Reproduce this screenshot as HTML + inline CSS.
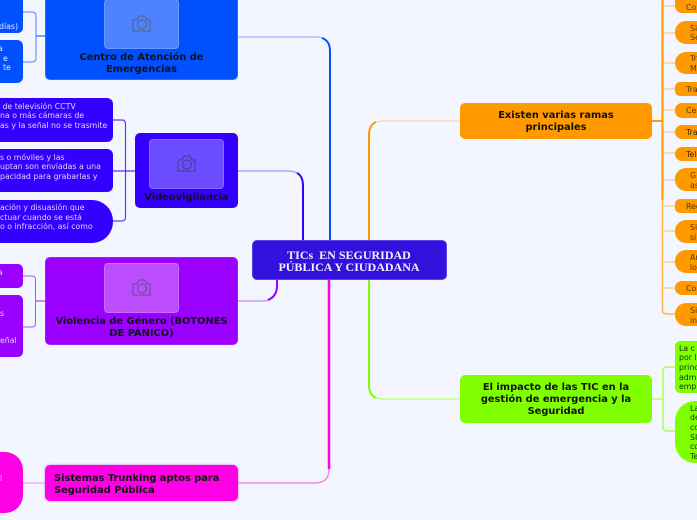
<!DOCTYPE html>
<html><head><meta charset="utf-8">
<style>
html,body{margin:0;padding:0}
body{width:697px;height:520px;overflow:hidden;background:#f3f6ff;position:relative;font-family:"DejaVu Sans",sans-serif}
.n{position:absolute;box-sizing:border-box;border-radius:5px;overflow:hidden}
.t{position:absolute;white-space:nowrap}
.h{font-weight:bold;font-size:9.85px;line-height:12px;color:#111;text-align:center}
.l{font-size:7.8px;line-height:9.7px;white-space:nowrap}
.img{position:absolute;width:75px;height:50px;border-radius:4px;border:1px solid rgba(255,255,255,.18);box-sizing:border-box}
svg.b{position:absolute;left:0;top:0}
</style></head><body>
<svg class="b" width="697" height="520" fill="none">
<path d="M238 37H316Q330 37 330 51V240" stroke="#a9c3ff" stroke-width="1.5"/>
<path d="M330 240V51Q330 41 322 38" stroke="#0050ff" stroke-width="2"/>
<path d="M238 171H288Q303 171 303 186V240" stroke="#b3a3ff" stroke-width="1.5"/>
<path d="M303 240V186Q303 176 297 173" stroke="#3300ff" stroke-width="2"/>
<path d="M277 280V286Q277 301 262 301H238" stroke="#c99bff" stroke-width="1.5"/>
<path d="M277 280V286Q277 296 268 300" stroke="#9900ff" stroke-width="2"/>
<path d="M329 280V469Q329 483 315 483H238" stroke="#f38ae8" stroke-width="1.5"/>
<path d="M329 280V469" stroke="#ff00e0" stroke-width="2.5"/>
<path d="M369 240V135Q369 121 383 121H460" stroke="#fbdcb0" stroke-width="1.5"/>
<path d="M369 240V135Q369 125 376 122" stroke="#ff9900" stroke-width="2"/>
<path d="M369 280V385Q369 399 383 399H460" stroke="#c2ff85" stroke-width="1.5"/>
<path d="M369 280V385Q369 395 376 398" stroke="#80ff00" stroke-width="2"/>
<path d="M652 121H662.5" stroke="#ff9900" stroke-width="2"/>
<path d="M662.500 0V310Q662.500 314 667 314H675" stroke="#ffb84d" stroke-width="1.6"/>
<path d="M662.500 0V200" stroke="#ff9900" stroke-width="2"/>
<path d="M662.500 6H675M662.500 33H675M662.500 63H675M662.500 89H675M662.500 110H675M662.500 132H675M662.500 153H675M662.500 180H675M662.500 206H675M662.500 231H675M662.500 262H675M662.500 288H675" stroke="#fbc985" stroke-width="1.3"/>
<path d="M652 399H663" stroke="#b6ff6b" stroke-width="1.5"/>
<path d="M675 367H667Q663 367 663 371V427Q663 431 667 431H675" stroke="#aaff55" stroke-width="1.5"/>
<path d="M23 12H32Q36 12 36 16V58Q36 62 32 62H23" stroke="#4d85ff" stroke-width="1"/>
<path d="M36 36H45" stroke="#4d85ff" stroke-width="1.5"/>
<path d="M113 120H122Q125.500 120 125.500 124V217Q125.500 221 122 221H113" stroke="#5a3dff" stroke-width="1.2"/>
<path d="M113 171H135" stroke="#3300ff" stroke-width="1"/>
<path d="M23 276H32Q35.500 276 35.500 280V323Q35.500 327 32 327H23" stroke="#b84dff" stroke-width="1"/>
<path d="M36 301H45" stroke="#a31aff" stroke-width="1"/>
<path d="M23 483H45" stroke="#f38ae8" stroke-width="1"/>
</svg>

<!-- central -->
<div class="n" style="left:251.500px;top:240px;width:195px;height:40px;background:#3410dd;border:1px solid #5a3fe6"></div>
<div class="t" style="left:251.500px;width:195px;top:249px;text-align:center;font:bold 12px/12px 'Liberation Serif',serif;color:#f3f0ff">TICs&nbsp; EN SEGURIDAD<br>PÚBLICA Y CIUDADANA</div>

<!-- Centro -->
<div class="n" style="left:45px;top:-20px;width:193px;height:100px;background:#0050ff;border:1px solid #2a6bff"></div>
<div class="img" style="left:104px;top:-1px;background:#4d83ff"></div>
<svg class="b" style="left:132px;top:15px" width="20" height="18" fill="none" stroke="#56617f" stroke-width="1"><path d="M1 5H5L7 1H13L15 5H18V16H1Z" stroke-linejoin="round"/><circle cx="10" cy="9.500" r="4.500"/></svg>
<div class="t h" style="left:45px;width:193px;top:51.500px">Centro de Atención de<br>Emergencias</div>

<!-- Video -->
<div class="n" style="left:135px;top:133px;width:103px;height:75px;background:#3300ff;border:1px solid #2a10cc"></div>
<div class="img" style="left:149px;top:139px;background:#6b4dff"></div>
<svg class="b" style="left:177px;top:155px" width="20" height="18" fill="none" stroke="#3e3f8f" stroke-width="1"><path d="M1 5H5L7 1H13L15 5H18V16H1Z" stroke-linejoin="round"/><circle cx="10" cy="9.500" r="4.500"/></svg>
<div class="t h" style="left:135px;width:103px;top:192px">Videovigilancia</div>

<!-- Violencia -->
<div class="n" style="left:45px;top:257px;width:193px;height:88px;background:#9900ff;border:1px solid #a31aff"></div>
<div class="img" style="left:104px;top:263px;background:#bb4dff"></div>
<svg class="b" style="left:132px;top:279px" width="20" height="18" fill="none" stroke="#6a4a8f" stroke-width="1"><path d="M1 5H5L7 1H13L15 5H18V16H1Z" stroke-linejoin="round"/><circle cx="10" cy="9.500" r="4.500"/></svg>
<div class="t h" style="left:45px;width:193px;top:315.500px">Violencia de Género (BOTONES<br>DE PÁNICO)</div>

<!-- Trunking -->
<div class="n" style="left:45px;top:465px;width:193px;height:36px;background:#ff00e6;box-shadow:0 0 2px #d070d0"></div>
<div class="t h" style="left:54px;top:472.500px;text-align:left">Sistemas Trunking aptos para<br>Seguridad Pública</div>

<!-- Existen -->
<div class="n" style="left:460px;top:103px;width:192px;height:36px;background:#ff9900"></div>
<div class="t h" style="left:460px;width:192px;top:110px">Existen varias ramas<br>principales</div>

<!-- Impacto -->
<div class="n" style="left:460px;top:375px;width:192px;height:48px;background:#80ff00"></div>
<div class="t h" style="left:460px;width:192px;top:382px">El impacto de las TIC en la<br>gestión de emergencia y la<br>Seguridad</div>

<!-- left leaves -->
<div class="n" style="left:-60px;top:-10px;width:83px;height:43px;background:#0050ff"></div>
<div class="t l" style="right:679px;top:22px;color:#dce8ff">días)</div>
<div class="n" style="left:-60px;top:40px;width:83px;height:43px;background:#0050ff;border-radius:6px"></div>
<div class="t l" style="left:-2px;top:44px;color:#dce8ff">a</div>
<div class="t l" style="left:3px;top:54px;color:#dce8ff">e</div>
<div class="t l" style="left:3px;top:63px;color:#dce8ff">te</div>

<div class="n" style="left:-60px;top:98px;width:173px;height:44px;background:#3300ff;border-radius:6px"></div>
<div class="t l" style="left:0;top:101.500px;color:#dcd6ff">&nbsp;de televisión CCTV<br>na o más cámaras de<br>as y la señal no se trasmite</div>
<div class="n" style="left:-60px;top:149px;width:173px;height:43px;background:#3300ff;border-radius:6px"></div>
<div class="t l" style="left:0;top:152.500px;color:#dcd6ff">s o móviles y las<br>uptan son enviadas a una<br>pacidad para grabarlas y</div>
<div class="n" style="left:-60px;top:200px;width:173px;height:43px;background:#3300ff;border-radius:21px"></div>
<div class="t l" style="left:0;top:203px;color:#dcd6ff">ación y disuasión que<br>ctuar cuando se está<br>o o infracción, así como</div>

<div class="n" style="left:-60px;top:264px;width:83px;height:24px;background:#9900ff"></div>
<div class="t l" style="left:-2px;top:268px;color:#e6c8ff">a</div>
<div class="n" style="left:-60px;top:295px;width:83px;height:62px;background:#9900ff"></div>
<div class="t l" style="left:0;top:309px;color:#e6c8ff">s</div>
<div class="t l" style="left:0;top:336px;color:#e6c8ff">eñal</div>

<div class="n" style="left:-60px;top:452px;width:83px;height:61px;background:#ff00e6;border-radius:18px"></div>
<div class="t l" style="left:0;top:474px;color:#ffc8f5">l</div>

<!-- orange leaves -->
<div class="n" style="left:675px;top:0;width:60px;height:13px;background:#ff9900;border-radius:0 0 0 7px"></div>
<div class="n" style="left:675px;top:21px;width:60px;height:23px;background:#ff9900;border-radius:11px"></div>
<div class="n" style="left:675px;top:52px;width:60px;height:22px;background:#ff9900;border-radius:11px"></div>
<div class="n" style="left:675px;top:82px;width:60px;height:14px;background:#ff9900;border-radius:5px"></div>
<div class="n" style="left:675px;top:103px;width:60px;height:15px;background:#ff9900;border-radius:7px"></div>
<div class="n" style="left:675px;top:125px;width:60px;height:14px;background:#ff9900;border-radius:7px"></div>
<div class="n" style="left:675px;top:147px;width:60px;height:14px;background:#ff9900;border-radius:7px"></div>
<div class="n" style="left:675px;top:168px;width:60px;height:23px;background:#ff9900;border-radius:11px"></div>
<div class="n" style="left:675px;top:199px;width:60px;height:14px;background:#ff9900;border-radius:5px"></div>
<div class="n" style="left:675px;top:220px;width:60px;height:23px;background:#ff9900;border-radius:11px"></div>
<div class="n" style="left:675px;top:250px;width:60px;height:23px;background:#ff9900;border-radius:11px"></div>
<div class="n" style="left:675px;top:281px;width:60px;height:14px;background:#ff9900;border-radius:7px"></div>
<div class="n" style="left:675px;top:303px;width:60px;height:23px;background:#ff9900;border-radius:11px"></div>
<div class="t l" style="left:686px;top:3px;color:#5c3800">Co</div>
<div class="t l" style="left:690px;top:23.500px;color:#5c3800">Si<br>Se</div>
<div class="t l" style="left:690px;top:54px;color:#5c3800">Tr<br>M</div>
<div class="t l" style="left:686px;top:85px;color:#5c3800">Tra</div>
<div class="t l" style="left:686px;top:106px;color:#5c3800">Cen</div>
<div class="t l" style="left:686px;top:128px;color:#3d2500">Tra</div>
<div class="t l" style="left:686px;top:150px;color:#3d2500">Tele</div>
<div class="t l" style="left:690px;top:171px;color:#5c3800">G<br>as</div>
<div class="t l" style="left:686px;top:202px;color:#5c3800">Rec</div>
<div class="t l" style="left:690px;top:223px;color:#5c3800">Si<br>si</div>
<div class="t l" style="left:690px;top:253px;color:#5c3800">Ar<br>lo</div>
<div class="t l" style="left:686px;top:284px;color:#5c3800">Con</div>
<div class="t l" style="left:690px;top:306px;color:#5c3800">Si<br>in</div>

<!-- green leaves -->
<div class="n" style="left:675px;top:341px;width:60px;height:52px;background:#80ff00;border-radius:5px"></div>
<div class="t l" style="left:679px;top:343.500px;color:#173300">La c<br>por l<br>princ<br>adm<br>emp</div>
<div class="n" style="left:675px;top:401px;width:60px;height:62px;background:#80ff00;border-radius:20px"></div>
<div class="t l" style="left:690px;top:403.500px;color:#173300">La<br>de<br>co<br>SI<br>co<br>Te</div>
</body></html>
